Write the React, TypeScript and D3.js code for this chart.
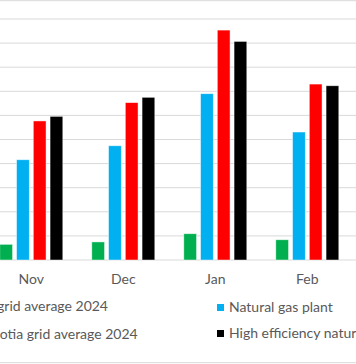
import React from "react";
import * as d3 from "d3";

const months = ["Nov", "Dec", "Jan", "Feb"];
const seriesNames = [
  "Ontario grid average 2024",
  "Natural gas plant",
  "Nova Scotia grid average 2024",
  "High efficiency natural gas plant",
];
const seriesColors = ["#00B050", "#00B0F0", "#FF0000", "#000000"];
const ontario = [65, 75, 109, 84];
const gasPlant = [416, 474, 690, 531];
const novaScotia = [577, 653, 954, 730];
const highEff = [596, 675, 907, 723];
const yTicks = [0, 100, 200, 300, 400, 500, 600, 700, 800, 900, 1000];

const W = 356;
const H = 364;

export default function App() {
  const values = [ontario, gasPlant, novaScotia, highEff];
  const x0 = d3.scaleBand<string>().domain(months).range([-14.7, 353.3]).padding(0);
  const x1 = d3
    .scaleBand<number>()
    .domain([0, 1, 2, 3])
    .range([14.5, 77.5])
    .paddingInner(0.24)
    .paddingOuter(0);
  const y = d3.scaleLinear().domain([0, 1000]).range([260, 19]);
  const font = "Lato, 'Noto Sans', sans-serif";
  const textColor = "#595959";

  return (
    <svg
      width={W}
      height={H}
      style={{ position: "absolute", left: 0, top: 0, background: "#fff" }}
    >
      <line x1={0} x2={W} y1={0.7} y2={0.7} stroke="#d9d9d9" strokeWidth={1} />
      {yTicks.map((t) => (
        <line
          key={t}
          x1={0}
          x2={W}
          y1={y(t)}
          y2={y(t)}
          stroke="#d9d9d9"
          strokeWidth={1}
        />
      ))}
      {months.map((m, i) => (
        <g key={m} transform={`translate(${x0(m)},0)`}>
          {values.map((vals, s) => (
            <rect
              key={s}
              x={x1(s)}
              width={x1.bandwidth()}
              y={y(vals[i])}
              height={y(0) - y(vals[i])}
              fill={seriesColors[s]}
              stroke="#ffffff"
              strokeOpacity={0.6}
              strokeWidth={0.75}
            />
          ))}
          <text
            x={x0.bandwidth() / 2}
            y={284}
            textAnchor="middle"
            fontFamily={font}
            fontSize={14}
            fill={textColor}
          >
            {m}
          </text>
        </g>
      ))}
      {/* legend */}
      <text x={108} y={311} textAnchor="end" fontFamily={font} fontSize={14} fill={textColor}>
        {seriesNames[0]}
      </text>
      <text x={137.7} y={339} textAnchor="end" fontFamily={font} fontSize={14} fill={textColor}>
        {seriesNames[2]}
      </text>
      <rect x={217} y={304} width={7} height={7} fill={seriesColors[1]} />
      <text x={229} y={312} fontFamily={font} fontSize={14} fill={textColor}>
        {seriesNames[1]}
      </text>
      <rect x={217} y={330} width={7} height={7} fill={seriesColors[3]} />
      <text x={229} y={338} fontFamily={font} fontSize={14} fill={textColor}>
        {seriesNames[3]}
      </text>
      <line x1={0} x2={W} y1={362.7} y2={362.7} stroke="#d9d9d9" strokeWidth={1} />
    </svg>
  );
}
